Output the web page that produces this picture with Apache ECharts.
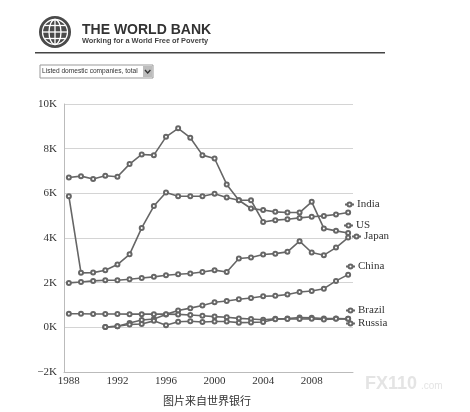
<!DOCTYPE html>
<html>
<head>
<meta charset="utf-8">
<script src="https://cdn.jsdelivr.net/npm/echarts@6/dist/echarts.min.js"></script>
<style>
  html, body { margin: 0; padding: 0; background: #fff; }
  #chart { width: 470px; height: 412px; }
</style>
</head>
<body>
<div id="chart"></div>
<script>
// listed domestic companies, total
const years = [1988, 1989, 1990, 1991, 1992, 1993, 1994, 1995, 1996, 1997, 1998, 1999,
    2000, 2001, 2002, 2003, 2004, 2005, 2006, 2007, 2008, 2009, 2010, 2011];
const xTicks = [1988, 1992, 1996, 2000, 2004, 2008];
const usValues = [6710, 6770, 6640, 6790, 6740, 7310, 7740, 7710, 8530, 8910, 8490, 7710,
    7560, 6400, 5690, 5320, 5250, 5170, 5140, 5140, 5620, 4430, 4320, 4220];
const indiaValues = [5870, 2440, 2450, 2560, 2810, 3270, 4450, 5430, 6040, 5870, 5870, 5870,
    5980, 5810, 5690, 5690, 4720, 4800, 4840, 4900, 4950, 4990, 5050, 5140];
const japanValues = [1990, 2030, 2080, 2110, 2110, 2150, 2210, 2260, 2330, 2380, 2410, 2480,
    2560, 2480, 3080, 3130, 3260, 3300, 3380, 3860, 3350, 3230, 3570, 4020];
const chinaValues = [null, null, null, 10, 50, 190, 330, 370, 580, 750, 860, 980,
    1120, 1180, 1260, 1310, 1390, 1410, 1470, 1580, 1630, 1730, 2080, 2360];
const brazilValues = [610, 610, 600, 600, 600, 590, 590, 590, 590, 580, 550, 520,
    480, 450, 400, 370, 340, 380, 390, 440, 430, 390, 390, 380];
const russiaValues = [null, null, null, 10, 50, 130, 150, 290, 90, 250, 270, 240,
    260, 260, 210, 220, 240, 360, 370, 370, 380, 350, 380, 380];

const lineColor = '#666';
const serif = 'Liberation Serif';

function pairs(values) {
    let out = [];
    $each(values, function (i, v) {
        if (v !== null) {
            out.push([years[i], v]);
        }
    });
    return out;
}
function $each(arr, fn) {
    for (let i = 0; i < arr.length; i++) fn(i, arr[i]);
}

function makeSeries(name, values) {
    return {
        name: name,
        type: 'line',
        data: pairs(values),
        symbol: 'emptyCircle',
        symbolSize: 4,
        lineStyle: { color: lineColor, width: 1.6 },
        itemStyle: { color: lineColor, borderWidth: 1 },
        animation: false
    };
}

// one small legend per series, set next to the end of its line
function makeLegend(name, left, top) {
    return {
        data: [name],
        left: left,
        top: top,
        padding: 0,
        itemWidth: 9,
        itemHeight: 5,
        itemGap: 0,
        selectedMode: false,
        textStyle: { fontFamily: serif, fontSize: 11, color: '#333', padding: [0, 0, 0, -2] }
    };
}

const chart = echarts.init(document.getElementById('chart'));
chart.setOption({
    backgroundColor: '#fff',
    animation: false,
    grid: { left: 64, right: 117, top: 104, bottom: 40 },
    legend: [
        makeLegend('India', 344, 199),
        makeLegend('US', 343, 220),
        makeLegend('Japan', 351, 231),
        makeLegend('China', 345, 261),
        makeLegend('Brazil', 345, 305),
        makeLegend('Russia', 345, 318)
    ],
    xAxis: {
        type: 'value',
        min: 1987.6,
        max: 2011.4,
        axisLine: { onZero: false, lineStyle: { color: '#bbb' } },
        axisTick: { show: false },
        splitLine: { show: false },
        axisLabel: {
            customValues: xTicks,
            fontFamily: serif,
            fontSize: 11,
            color: '#333',
            margin: 4,
            formatter: function (v) { return String(v); }
        }
    },
    yAxis: {
        type: 'value',
        min: -2000,
        max: 10000,
        interval: 2000,
        axisLine: { show: true, lineStyle: { color: '#bbb' } },
        axisTick: { show: false },
        splitLine: { lineStyle: { color: '#d4d4d4' } },
        axisLabel: {
            fontFamily: serif,
            fontSize: 11,
            color: '#333',
            margin: 7,
            formatter: function (v) {
                return (v < 0 ? '\u2212' + (-v / 1000) : v / 1000) + 'K';
            }
        }
    },
    series: [
        makeSeries('US', usValues),
        makeSeries('India', indiaValues),
        makeSeries('Japan', japanValues),
        makeSeries('China', chinaValues),
        makeSeries('Brazil', brazilValues),
        makeSeries('Russia', russiaValues)
    ],
    graphic: [
        // globe logo
        { type: 'circle', shape: { cx: 55, cy: 32, r: 16 }, style: { fill: '#4a4a4a' } },
        { type: 'circle', shape: { cx: 55, cy: 32, r: 12.5 }, style: { fill: 'none', stroke: '#fff', lineWidth: 1.3 } },
        { type: 'ellipse', shape: { cx: 55, cy: 32, rx: 6, ry: 12.5 }, style: { fill: 'none', stroke: '#fff', lineWidth: 1.3 } },
        { type: 'line', shape: { x1: 55, y1: 19.5, x2: 55, y2: 44.5 }, style: { stroke: '#fff', lineWidth: 1.3 } },
        { type: 'line', shape: { x1: 42.5, y1: 32, x2: 67.5, y2: 32 }, style: { stroke: '#fff', lineWidth: 1.3 } },
        { type: 'line', shape: { x1: 44.5, y1: 25.5, x2: 65.5, y2: 25.5 }, style: { stroke: '#fff', lineWidth: 1.3 } },
        { type: 'line', shape: { x1: 44.5, y1: 38.5, x2: 65.5, y2: 38.5 }, style: { stroke: '#fff', lineWidth: 1.3 } },
        {
            type: 'text', left: 82, top: 23,
            style: { text: 'THE WORLD BANK', font: 'bold 14px "Liberation Sans"', fill: '#333' }
        },
        {
            type: 'text', left: 82, top: 37,
            style: { text: 'Working for a World Free of Poverty', font: 'bold 7.4px "Liberation Sans"', fill: '#444' }
        },
        { type: 'line', shape: { x1: 35, y1: 52.7, x2: 385, y2: 52.7 }, style: { stroke: '#444', lineWidth: 1.5 } },
        // indicator dropdown
        { type: 'rect', shape: { x: 40, y: 65, width: 113, height: 13 }, style: { fill: '#fff', stroke: '#999', lineWidth: 1 } },
        {
            type: 'text', left: 42, top: 68,
            style: { text: 'Listed domestic companies, total', font: '6.6px "Liberation Sans"', fill: '#333' }
        },
        { type: 'rect', shape: { x: 143, y: 66, width: 9.5, height: 11 }, style: { fill: '#bcbcbc' } },
        { type: 'polyline', shape: { points: [[145, 70], [147.7, 73], [150.4, 70]] }, style: { fill: 'none', stroke: '#333', lineWidth: 1.3 } },
        // caption and watermark
        {
            type: 'text', left: 163, top: 395,
            style: { text: '图片来自世界银行', font: '11px "Noto Sans CJK SC"', fill: '#333' }
        },
        {
            type: 'text', left: 365, top: 375,
            style: { text: 'FX110', font: 'bold 18px "Liberation Sans"', fill: '#e4e4e4' }
        },
        {
            type: 'text', left: 421, top: 381,
            style: { text: '.com', font: '10px "Liberation Sans"', fill: '#e4e4e4' }
        }
    ]
});
</script>
</body>
</html>
